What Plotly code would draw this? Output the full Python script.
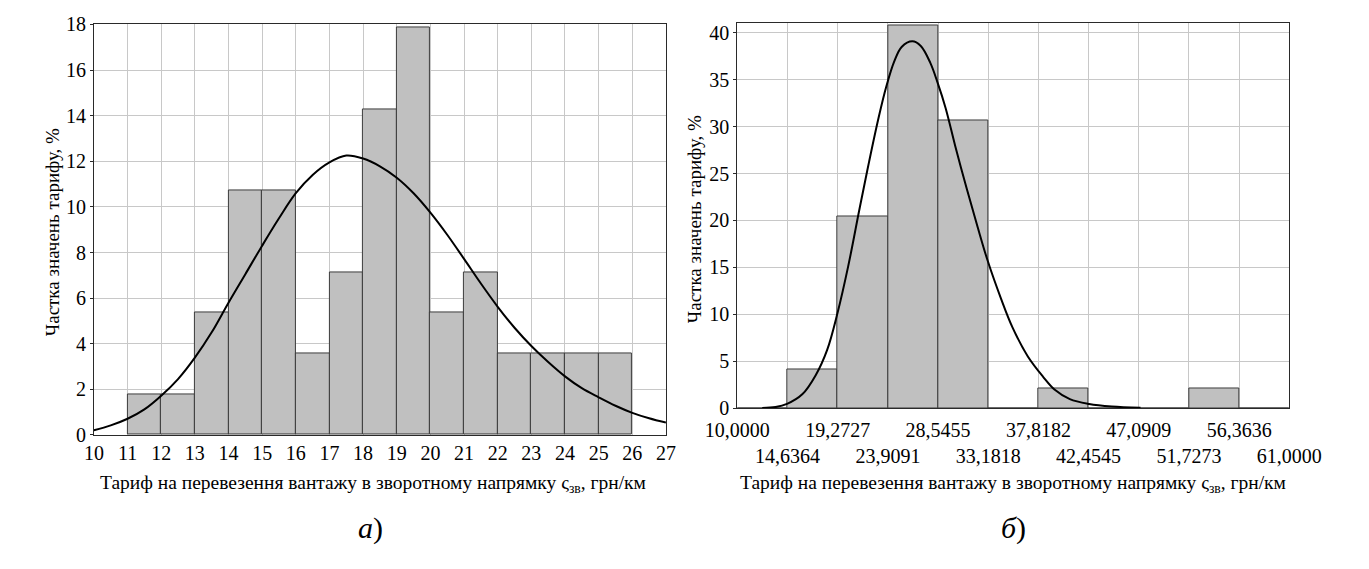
import plotly.graph_objects as go

# ---------------- panel a) : tariff histogram, integer bins 11..26 ----------------
a_edges = [11, 12, 13, 14, 15, 16, 17, 18, 19, 20, 21, 22, 23, 24, 25, 26]
a_share = [1.79, 1.79, 5.36, 10.71, 10.71, 3.57, 7.14, 14.29, 17.86,
           5.36, 7.14, 3.57, 3.57, 3.57, 3.57]

# fitted density curve, % per bin
a_curve_x = [10.0, 10.5, 11.0, 11.5, 12.0, 12.5, 13.0, 13.5, 14.0, 14.5,
             15.0, 15.5, 16.0, 16.5, 17.0, 17.5, 18.0, 18.5, 19.0, 19.5,
             20.0, 20.5, 21.0, 21.5, 22.0, 22.5, 23.0, 23.5, 24.0, 24.5,
             25.0, 25.5, 26.0, 26.5, 27.0]
a_curve_y = [0.21, 0.42, 0.71, 1.12, 1.72, 2.45, 3.39, 4.5, 5.8, 7.05,
             8.3, 9.5, 10.6, 11.4, 11.95, 12.25, 12.12, 11.78, 11.28, 10.6,
             9.75, 8.78, 7.72, 6.64, 5.62, 4.7, 3.9, 3.2, 2.57, 2.05,
             1.65, 1.28, 0.97, 0.73, 0.54]

a_xticks = list(range(10, 28))
a_yticks = list(range(0, 19, 2))

# ---------------- panel б) : tariff histogram, 11 equal bins 10..61 ----------------
b_edges = [10.0, 14.6364, 19.2727, 23.9091, 28.5455, 33.1818, 37.8182,
           42.4545, 47.0909, 51.7273, 56.3636, 61.0]
b_edge_labels = ["10,0000", "14,6364", "19,2727", "23,9091", "28,5455", "33,1818",
                 "37,8182", "42,4545", "47,0909", "51,7273", "56,3636", "61,0000"]
b_share = [0.0, 4.08, 20.41, 40.82, 30.61, 0.0, 2.04, 0.0, 0.0, 2.04, 0.0]

b_curve_x = [12.3, 13.53, 14.59, 16.0, 17.24, 18.3, 19.25, 20.24, 21.3, 22.18,
             23.06, 23.77, 24.48, 25.18, 26.17, 26.95, 27.83, 28.5, 29.24, 30.13,
             31.19, 32.2, 33.13, 34.36, 35.42, 36.84, 38.25, 39.3, 40.72, 42.5,
             44.6, 47.25]
b_curve_y = [0.0, 0.1, 0.44, 1.46, 3.5, 6.2, 10.1, 15.1, 21.3, 26.3,
             31.0, 34.3, 36.9, 38.5, 39.1, 38.6, 36.8, 34.7, 32.0, 27.95,
             23.4, 19.3, 15.7, 11.67, 8.6, 5.5, 3.33, 1.97, 0.95, 0.44,
             0.17, 0.03]

x_title = "Тариф на перевезення вантажу в зворотному напрямку ς<sub>зв</sub>, грн/км"
y_title = "Частка значень тарифу, %"

FONT = "Liberation Serif, Times New Roman, serif"
BAR_FILL = "#c0c0c0"
BAR_EDGE = "#3c3c3c"
GRID = "#c8c8c8"
AXIS = "#2a2a2a"

W, H = 1369, 569


def bars_from_edges(edges, values):
    centers = [(edges[i] + edges[i + 1]) / 2 for i in range(len(values))]
    widths = [edges[i + 1] - edges[i] for i in range(len(values))]
    return centers, widths


fig = go.Figure()

ac, aw = bars_from_edges(a_edges, a_share)
fig.add_trace(go.Bar(x=ac, y=a_share, width=aw, xaxis="x", yaxis="y",
                     marker=dict(color=BAR_FILL, line=dict(color=BAR_EDGE, width=1)),
                     showlegend=False, hoverinfo="skip"))
fig.add_trace(go.Scatter(x=a_curve_x, y=a_curve_y, xaxis="x", yaxis="y",
                         mode="lines", line=dict(color="black", width=2, shape="spline"),
                         showlegend=False, hoverinfo="skip"))

bc, bw = bars_from_edges(b_edges, b_share)
fig.add_trace(go.Bar(x=bc, y=b_share, width=bw, xaxis="x2", yaxis="y2",
                     marker=dict(color=BAR_FILL, line=dict(color=BAR_EDGE, width=1)),
                     showlegend=False, hoverinfo="skip"))
fig.add_trace(go.Scatter(x=b_curve_x, y=b_curve_y, xaxis="x2", yaxis="y2",
                         mode="lines", line=dict(color="black", width=2, shape="spline"),
                         showlegend=False, hoverinfo="skip"))


def px_x(p):
    return p / W


def px_y(p):
    return 1 - p / H


axis_common = dict(showline=True, mirror=True, linecolor=AXIS, linewidth=1,
                   showgrid=True, gridcolor=GRID, gridwidth=1, zeroline=False,
                   tickfont=dict(family=FONT, size=20, color="black"))

# staggered labels for panel б): every second edge goes to a lower row
b_ticktext = [t if i % 2 == 0 else "<br>" + t for i, t in enumerate(b_edge_labels)]

fig.update_layout(
    width=W, height=H,
    margin=dict(l=0, r=0, t=0, b=0),
    paper_bgcolor="white", plot_bgcolor="white",
    bargap=0,
    font=dict(family=FONT, color="black"),
    xaxis=dict(domain=[px_x(64), px_x(665)], range=[10, 27], anchor="y",
               tickmode="array", tickvals=a_xticks, ticktext=[str(v) for v in a_xticks],
               ticks="", tickangle=0, **axis_common),
    yaxis=dict(domain=[px_y(441), px_y(14)], range=[0, 18], anchor="x",
               tickmode="array", tickvals=a_yticks, ticks="outside", ticklen=3,
               tickcolor=AXIS, **axis_common),
    # invisible tick marks keep the staggered labels clear of the y-axis "0"
    xaxis2=dict(domain=[px_x(740), px_x(1320)], range=[10, 61], anchor="y2",
                tickmode="array", tickvals=b_edges, ticktext=b_ticktext,
                ticks="outside", ticklen=4, tickcolor="rgba(0,0,0,0)",
                tickangle=0, **axis_common),
    yaxis2=dict(domain=[px_y(413), px_y(13)], range=[0, 41], anchor="x2",
                tickmode="array", tickvals=list(range(0, 41, 5)), ticks="outside",
                ticklen=3, tickcolor=AXIS, **axis_common),
)

annotations = [
    dict(text=y_title, x=px_x(20), y=px_y(230), textangle=-90, size=19),
    dict(text=y_title, x=px_x(695), y=px_y(216), textangle=-90, size=19),
    dict(text=x_title, x=px_x(357), y=px_y(492), textangle=0, size=19.5),
    dict(text=x_title, x=px_x(1030), y=px_y(492), textangle=0, size=19.5),
]
for a in annotations:
    fig.add_annotation(xref="paper", yref="paper", showarrow=False,
                       xanchor="center", yanchor="middle",
                       x=a["x"], y=a["y"], text=a["text"], textangle=a["textangle"],
                       font=dict(family=FONT, size=a["size"], color="black"))

for label, cx in (("<i>а</i>)", 355), ("<i>б</i>)", 1030)):
    fig.add_annotation(xref="paper", yref="paper", showarrow=False,
                       x=px_x(cx), y=px_y(538), xanchor="center", yanchor="middle",
                       text=label, font=dict(family=FONT, size=30, color="black"))

fig.write_html("out.html")
